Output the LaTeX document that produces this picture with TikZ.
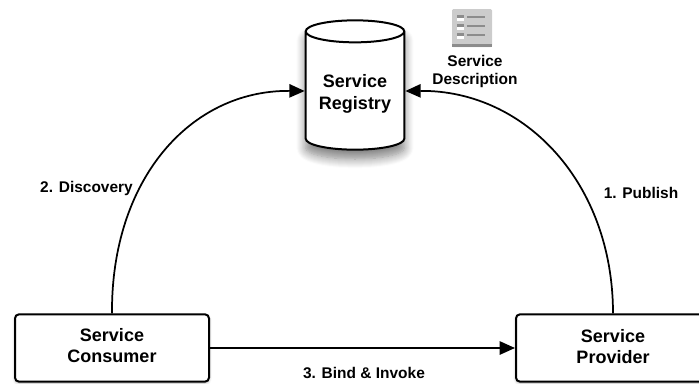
\documentclass[tikz,border=0pt]{standalone}
\usepackage{fontspec}
\setmainfont{Liberation Sans}
\usetikzlibrary{arrows.meta,shapes.geometric,shadows.blur}
\definecolor{iconGray}{RGB}{204,204,204}
\definecolor{iconDark}{RGB}{140,140,140}
\tikzset{
  service/.style={draw,line width=1.5pt,rounded corners=3pt,fill=white,minimum width=145.5pt,minimum height=50.5pt,inner sep=0pt,blur shadow={shadow xshift=0pt,shadow yshift=-1pt,shadow blur steps=6,shadow opacity=30}},
  title/.style={inner sep=0pt,align=center,font=\bfseries\fontsize{13.5}{16}\selectfont},
  caption/.style={inner sep=0pt,align=center,font=\bfseries\fontsize{11.6}{14.2}\selectfont},
  link/.style={line width=1.3pt,-{Triangle[length=11.5pt,width=10pt]}},
}
\begin{document}
\begin{tikzpicture}[x=0.75pt,y=0.75pt,yscale=-1,xscale=1]
\useasboundingbox (0,0) rectangle (699,383);
\clip (0,0) rectangle (699,383);

%Shape: Cylinder
\node (registry) at (355,91) [cylinder,shape border rotate=90,aspect=0.45,draw,line width=1.5pt,fill=white,minimum width=74pt,minimum height=97pt,inner sep=0pt,blur shadow={shadow xshift=0pt,shadow yshift=-7pt,shadow blur steps=10,shadow blur radius=7pt,shadow opacity=50}] {\phantom{Registry}};

%Shape: Rectangle
\node (consumer) at (112,348) [service] {};
\node (provider) at (613,348) [service] {};

%Curves and Straight Lines
\draw [link] (consumer.north) .. controls (111,180) and (190,90) .. (registry.west);
\draw [link] (provider.north) .. controls (613,183) and (525,90) .. (registry.east);
\draw [link] (consumer.east) -- (provider.west);

%Shape: Icon
\fill [iconGray,rounded corners=1pt] (452,9) rectangle (492,47);
\fill [iconDark] (452,44) rectangle (492,47);
\foreach \rowy in {17,26,35} {
  \fill [iconDark] (457,\rowy-2) rectangle (464,\rowy+0.5);
  \fill [white] (457,\rowy+0.5) rectangle (464,\rowy+3.5);
  \draw [iconDark,line width=1pt] (467,\rowy) -- (485,\rowy);
}

% Text Node
\node (registrytext) at (355,94) [title] {Service\\Registry};
% Text Node
\node (consumertext) at (112,345.5) [title] {Service\\Consumer};
% Text Node
\node (providertext) at (613,346.5) [title] {Service\\Provider};
% Text Node
\node (description) at (475,71.5) [caption] {Service\\Description};
% Text Node
\node (publish) at (641,193) [caption] {1. Publish};
% Text Node
\node (discovery) at (86.5,188) [caption] {2. Discovery};
% Text Node
\node (invoke) at (364,373) [caption] {3. Bind \& Invoke};

\end{tikzpicture}
\end{document}
